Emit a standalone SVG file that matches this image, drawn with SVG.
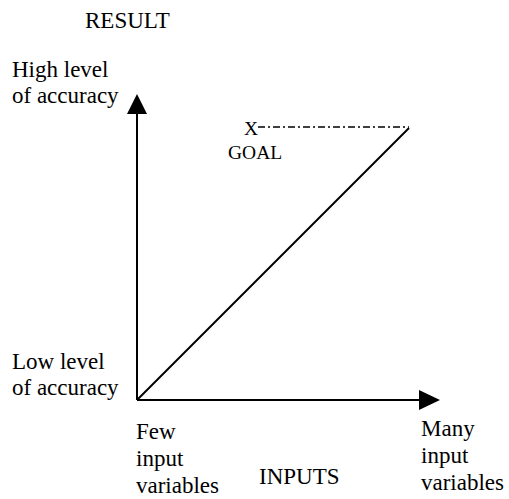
<svg xmlns="http://www.w3.org/2000/svg" width="509" height="499" viewBox="0 0 509 499">
<style>
text { font-family: "Liberation Serif", "Times New Roman", serif; fill: #000; }
.t { font-size: 23px; }
.g { font-size: 19.5px; }
.ln { stroke: #000; stroke-width: 2; fill: none; }
.dd { stroke: #000; stroke-width: 1.5; fill: none; stroke-dasharray: 7 3 2 3; }
</style>
<rect width="509" height="499" fill="#fff"/>
<g id="result-label"><text class="t" x="85" y="28">RESULT</text></g>
<g id="high-label">
<text class="t" x="12" y="77">High level</text>
<text class="t" x="12" y="103">of accuracy</text>
</g>
<g id="low-label">
<text class="t" x="12" y="369">Low level</text>
<text class="t" x="12" y="395">of accuracy</text>
</g>
<g id="few-label">
<text class="t" x="136" y="439">Few</text>
<text class="t" x="136" y="466">input</text>
<text class="t" x="136" y="493">variables</text>
</g>
<g id="inputs-label"><text class="t" x="259" y="484">INPUTS</text></g>
<g id="many-label">
<text class="t" x="421" y="436">Many</text>
<text class="t" x="421" y="463">input</text>
<text class="t" x="421" y="490">variables</text>
</g>
<g id="goal">
<text class="g" x="244" y="135">X</text>
<text class="g" x="228" y="159">GOAL</text>
</g>
<g id="connectors">
<line class="ln" x1="137" y1="400" x2="137" y2="110"/>
<polygon points="137,94 127,114 147,114" fill="#000"/>
<line class="ln" x1="137" y1="400" x2="422" y2="400"/>
<polygon points="440,400 419,390 419,410" fill="#000"/>
<line class="ln" x1="137" y1="400" x2="409" y2="128"/>
<line class="dd" x1="258" y1="127" x2="409" y2="127"/>
</g>
</svg>
